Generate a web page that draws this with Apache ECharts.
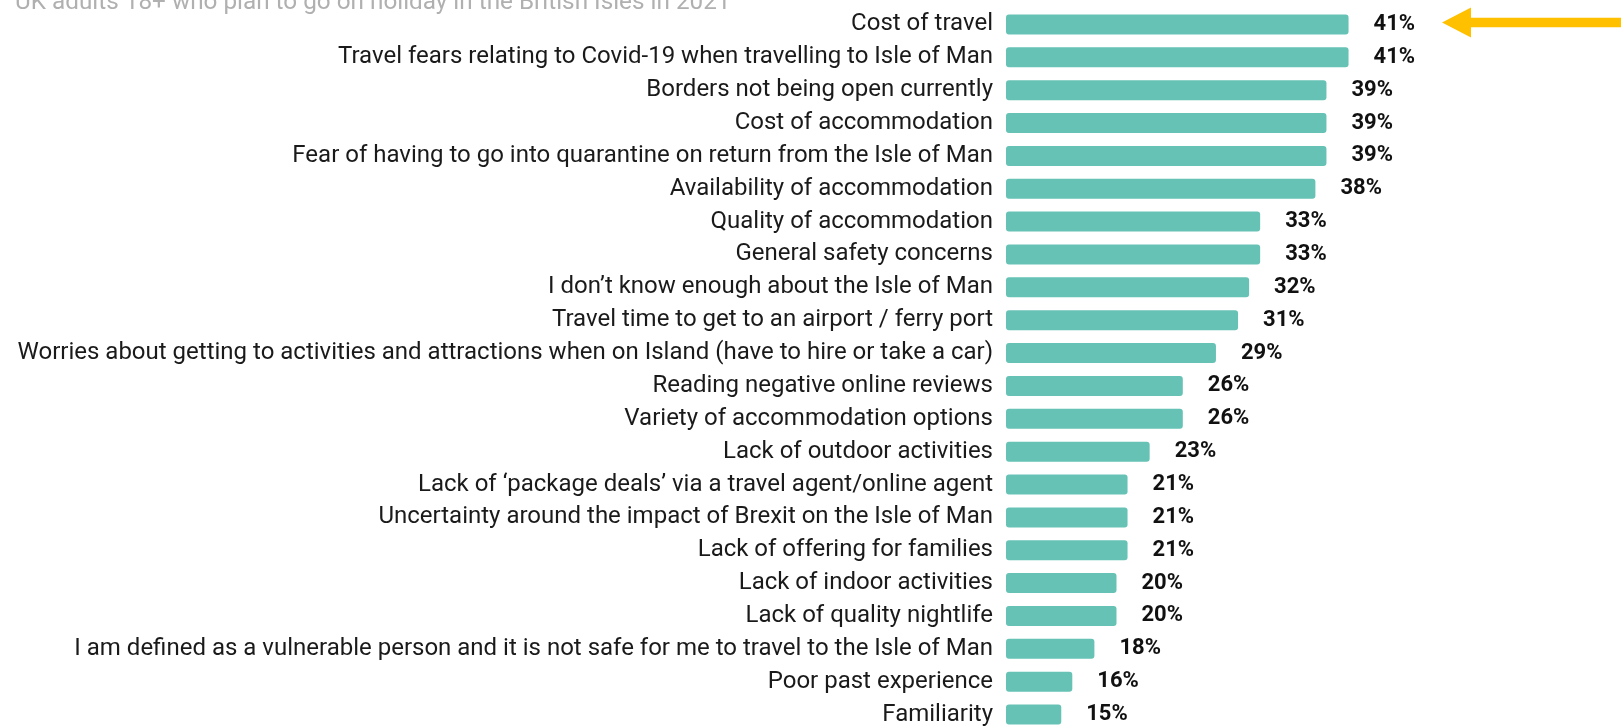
<!DOCTYPE html>
<html>
<head>
<meta charset="utf-8">
<script src="https://cdn.jsdelivr.net/npm/echarts@6/dist/echarts.min.js"></script>
<style>
html,body{margin:0;padding:0;background:#fff;}
#c{width:1621px;height:726px;}
</style>
</head>
<body>
<div id="c"></div>
<script>
const subtitle = 'UK adults 18+ who plan to go on holiday in the British Isles in 2021';
const categories = [
  'Cost of travel',
  'Travel fears relating to Covid-19 when travelling to Isle of Man',
  'Borders not being open currently',
  'Cost of accommodation',
  'Fear of having to go into quarantine on return from the Isle of Man',
  'Availability of accommodation',
  'Quality of accommodation',
  'General safety concerns',
  'I don\u2019t know enough about the Isle of Man',
  'Travel time to get to an airport / ferry port',
  'Worries about getting to activities and attractions when on Island (have to hire or take a car)',
  'Reading negative online reviews',
  'Variety of accommodation options',
  'Lack of outdoor activities',
  'Lack of \u2018package deals\u2019 via a travel agent/online agent',
  'Uncertainty around the impact of Brexit on the Isle of Man',
  'Lack of offering for families',
  'Lack of indoor activities',
  'Lack of quality nightlife',
  'I am defined as a vulnerable person and it is not safe for me to travel to the Isle of Man',
  'Poor past experience',
  'Familiarity'
];
const values = [41, 41, 39, 39, 39, 38, 33, 33, 32, 31, 29, 26, 26, 23, 21, 21, 21, 20, 20, 18, 16, 15];

const chart = echarts.init(document.getElementById('c'));
chart.setOption({
  animation: false,
  backgroundColor: '#ffffff',
  grid: { left: 1006, width: 442, top: 8, height: 723, containLabel: false, outerBoundsMode: 'none' },
  xAxis: {
    type: 'value', min: 10, max: 50, show: false
  },
  yAxis: {
    type: 'category',
    data: categories,
    inverse: true,
    axisLine: { show: false },
    axisTick: { show: false },
    axisLabel: {
      margin: 13,
      fontFamily: 'Roboto',
      fontSize: 24,
      color: '#1a1a1a'
    }
  },
  series: [{
    type: 'bar',
    data: values,
    barWidth: 20,
    itemStyle: { color: '#66c2b5', borderRadius: 3 },
    label: {
      show: true,
      position: 'right',
      distance: 25,
      formatter: '{c}%',
      fontFamily: 'Roboto',
      fontWeight: 'bold',
      fontSize: 22,
      color: '#111'
    }
  }],
  graphic: [
    {
      type: 'text',
      x: 15, y: 15,
      style: {
        text: subtitle,
        fontFamily: 'Roboto',
        fontSize: 24.3,
        fill: '#b0b0b0',
        verticalAlign: 'bottom'
      }
    },
    {
      type: 'polygon',
      shape: {
        points: [[1442, 22.5], [1471, 7.5], [1471, 17.7], [1621, 17.7], [1621, 27.3], [1471, 27.3], [1471, 37.5]]
      },
      style: { fill: '#FFC000' }
    }
  ]
});
</script>
</body>
</html>
